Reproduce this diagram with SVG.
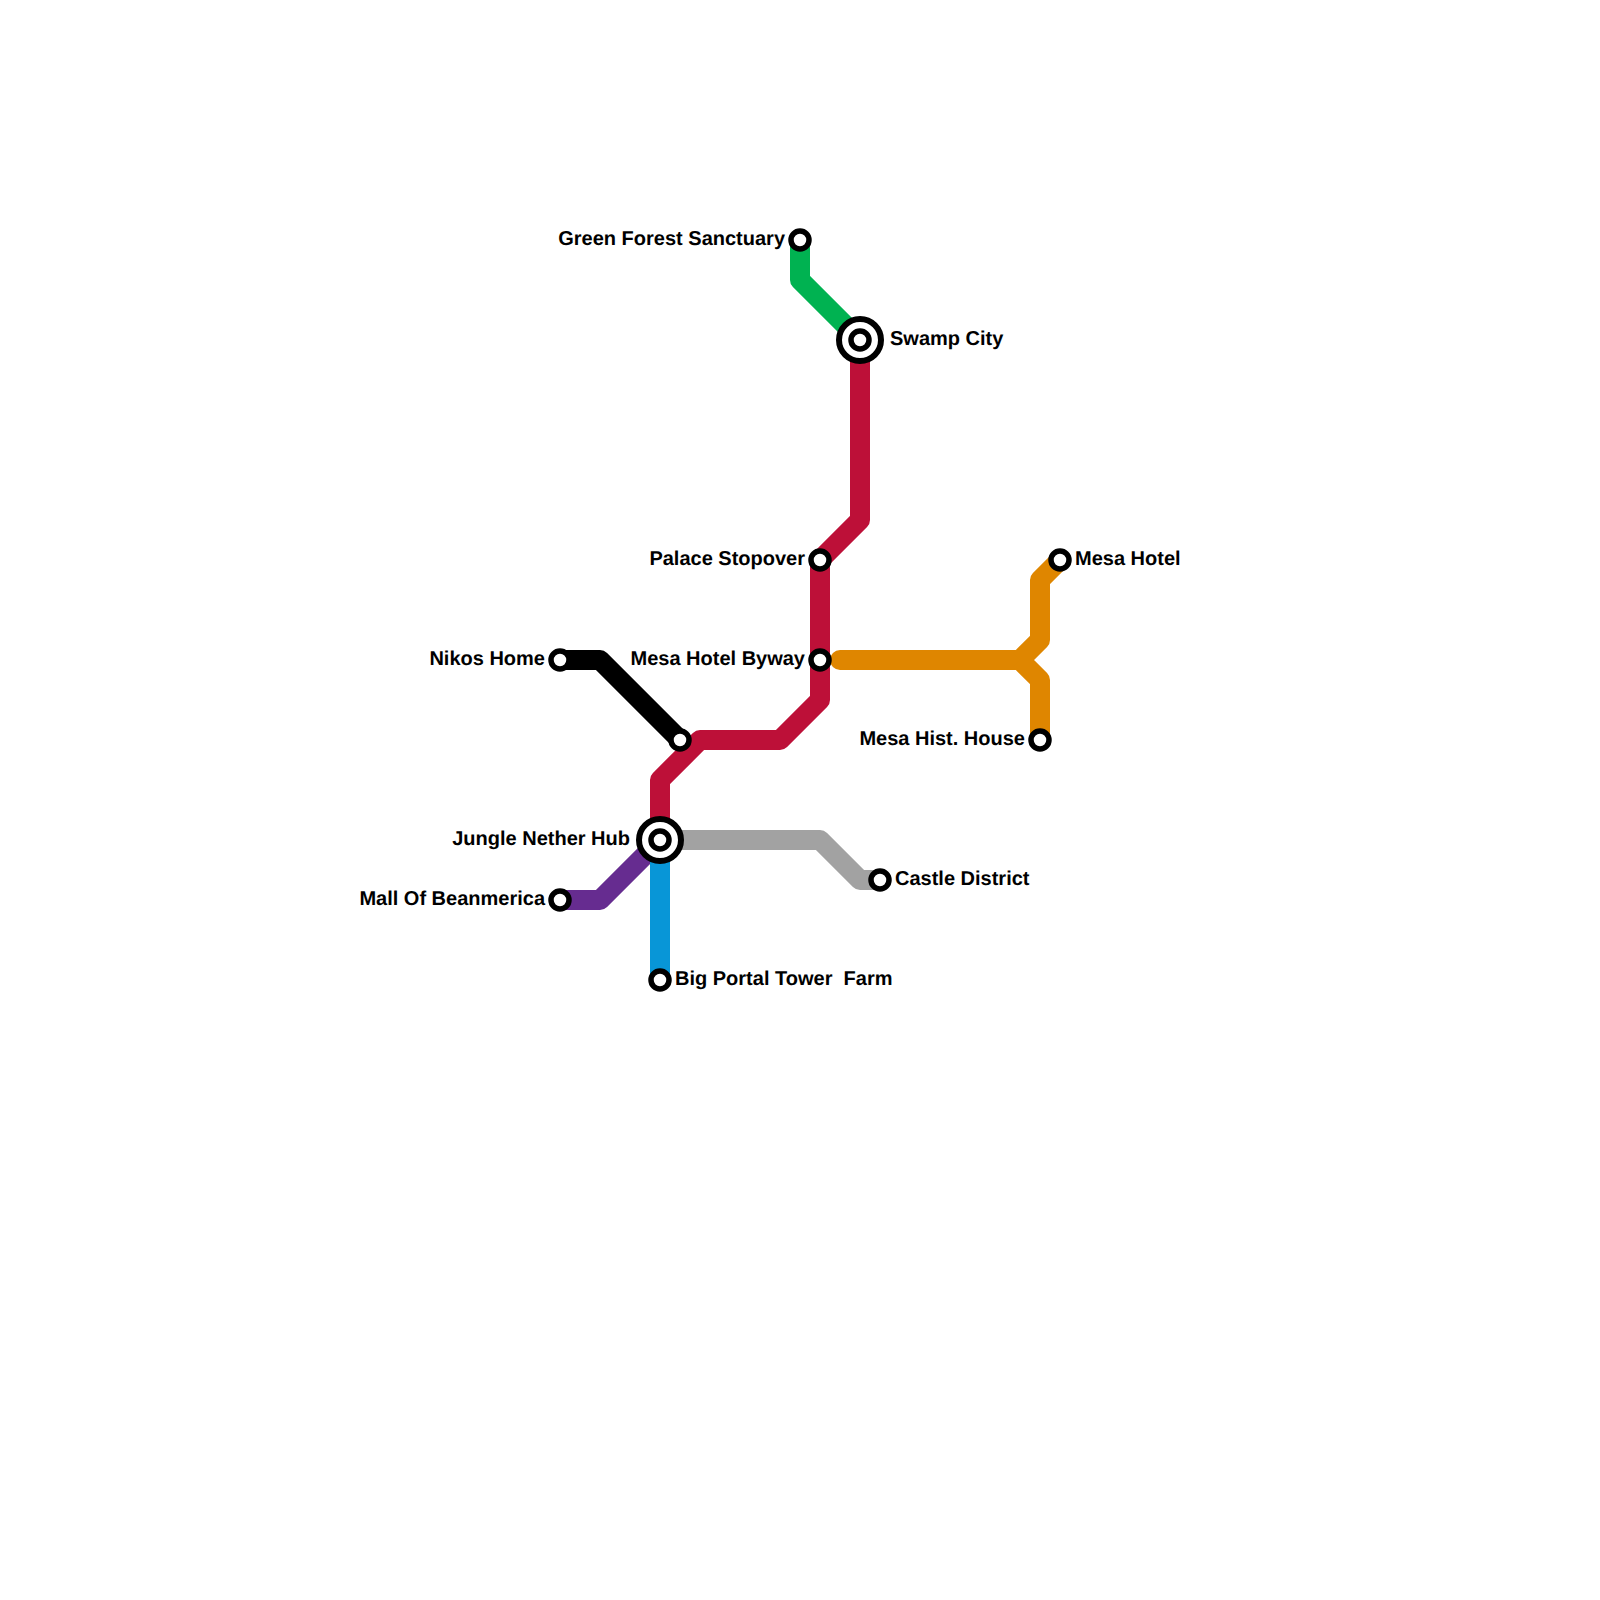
<svg xmlns="http://www.w3.org/2000/svg" width="1600" height="1600" viewBox="0 0 1600 1600">
<style>
.line{fill:none;stroke-width:20;stroke-linejoin:round}
.st{fill:#fff;stroke:#000;stroke-width:5.5}
.ring{fill:#fff;stroke:#000;stroke-width:6}
text{font-family:"Liberation Sans",Arial,sans-serif;font-size:20px;font-weight:700;fill:#000;text-rendering:geometricPrecision}
.e{text-anchor:end}
</style>
<rect width="1600" height="1600" fill="#fff"/>
<g id="connectors">
<path class="line" stroke="#00b251" d="M800 240V280L860 340"/>
<path class="line" stroke="#bd1038" d="M860 340V520L820 560V700L780 740H700L660 780V840"/>
<path class="line" stroke="#000" d="M560 660H600L680 740"/>
<path class="line" stroke="#a2a2a2" d="M660 840H820L860 880H880"/>
<path class="line" stroke="#662c90" d="M560 900H600L660 840"/>
<path class="line" stroke="#0896d7" d="M660 840V980"/>
<path class="line" stroke="#df8600" stroke-linecap="round" d="M840 660H1020"/>
<path class="line" stroke="#df8600" d="M1020 660L1040 640V580L1060 560M1020 660L1040 680V740"/>
</g>
<g id="green-forest-sanctuary"><circle class="st" cx="800" cy="240" r="9"/><text class="e" x="785" y="244.5">Green Forest Sanctuary</text></g>
<g id="swamp-city"><circle class="ring" cx="860" cy="340" r="21"/><circle class="st" cx="860" cy="340" r="9"/><text x="890" y="344.5">Swamp City</text></g>
<g id="palace-stopover"><circle class="st" cx="820" cy="560" r="9"/><text class="e" x="805" y="564.5">Palace Stopover</text></g>
<g id="mesa-hotel"><circle class="st" cx="1060" cy="560" r="9"/><text x="1075" y="564.5">Mesa Hotel</text></g>
<g id="mesa-hotel-byway"><circle class="st" cx="820" cy="660" r="9"/><text class="e" x="805" y="664.5">Mesa Hotel Byway</text></g>
<g id="nikos-home"><circle class="st" cx="560" cy="660" r="9"/><text class="e" x="545" y="664.5">Nikos Home</text></g>
<g id="black-junction"><circle class="st" cx="680" cy="740" r="9"/></g>
<g id="mesa-hist-house"><circle class="st" cx="1040" cy="740" r="9"/><text class="e" x="1025" y="744.5">Mesa Hist. House</text></g>
<g id="jungle-nether-hub"><circle class="ring" cx="660" cy="840" r="21"/><circle class="st" cx="660" cy="840" r="9"/><text class="e" x="630" y="844.5">Jungle Nether Hub</text></g>
<g id="castle-district"><circle class="st" cx="880" cy="880" r="9"/><text x="895" y="884.5">Castle District</text></g>
<g id="mall-of-beanmerica"><circle class="st" cx="560" cy="900" r="9"/><text class="e" x="545" y="904.5">Mall Of Beanmerica</text></g>
<g id="big-portal-tower-farm"><circle class="st" cx="660" cy="980" r="9"/><text x="675" y="984.5" xml:space="preserve">Big Portal Tower  Farm</text></g>
</svg>
